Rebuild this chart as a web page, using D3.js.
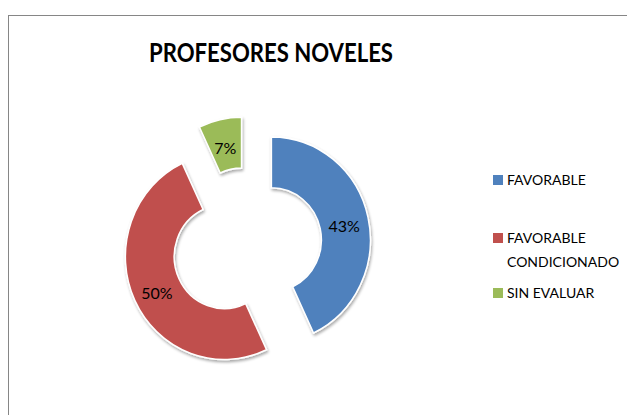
<!DOCTYPE html>
<html>
<head>
<meta charset="utf-8">
<script src="https://cdn.jsdelivr.net/npm/d3@7"></script>
<style>
  body { margin: 0; background: #fff; }
  text { font-family: Lato, "Open Sans", sans-serif; fill: #000; }
</style>
</head>
<body>
<script>
// chart data
var categories = ["FAVORABLE", "FAVORABLE CONDICIONADO", "SIN EVALUAR"];
var values = [43, 50, 7];
var legendLines = [["FAVORABLE"], ["FAVORABLE", "CONDICIONADO"], ["SIN EVALUAR"]];
var colors = ["#4F81BD", "#C0504D", "#9BBB59"];

var svgWidth = 627, svgHeight = 415;

var svg = d3.select("body").append("svg")
  .attr("width", svgWidth)
  .attr("height", svgHeight);

// shadow filter
var defs = svg.append("defs");
var f = defs.append("filter").attr("id", "shadow")
  .attr("x", "-20%").attr("y", "-20%").attr("width", "140%").attr("height", "140%");
f.append("feGaussianBlur").attr("in", "SourceAlpha").attr("stdDeviation", 1.5).attr("result", "b");
f.append("feOffset").attr("in", "b").attr("dx", 1).attr("dy", 2).attr("result", "o");
f.append("feComponentTransfer").attr("in", "o").attr("result", "s")
  .append("feFuncA").attr("type", "linear").attr("slope", 0.35);
var m = f.append("feMerge");
m.append("feMergeNode").attr("in", "s");
m.append("feMergeNode").attr("in", "SourceGraphic");

// chart frame
svg.append("rect")
  .attr("x", 8.5).attr("y", 15.5)
  .attr("width", 640).attr("height", 420)
  .attr("fill", "none")
  .attr("stroke", "#868686")
  .attr("stroke-width", 1);

// title (condensed like the original font)
svg.append("text")
  .attr("x", 149).attr("y", 62)
  .attr("textLength", 244)
  .attr("lengthAdjust", "spacingAndGlyphs")
  .style("font-size", "27px")
  .style("font-weight", "bold")
  .text("PROFESORES NOVELES");

// donut
var cx = 247, cy = 245.5, yScale = 1.04;
var rOut = 99, rIn = 50, explode = 25;

var pie = d3.pie().sort(null).value(function(d) { return d; });
var arcs = pie(values);

var arc = d3.arc().innerRadius(rIn).outerRadius(rOut);
var labelArc = d3.arc().innerRadius((rIn + rOut) / 2).outerRadius((rIn + rOut) / 2);

var donut = svg.append("g")
  .attr("transform", "translate(" + cx + "," + cy + ") scale(1," + yScale + ")");

donut.selectAll("path")
  .data(arcs)
  .enter()
  .append("path")
  .attr("d", arc)
  .attr("fill", function(d, i) { return colors[i]; })
  .attr("stroke", "#fff")
  .attr("stroke-width", 1.5)
  .attr("filter", "url(#shadow)")
  .attr("transform", function(d) {
    var a = (d.startAngle + d.endAngle) / 2;
    return "translate(" + (explode * Math.sin(a)) + "," + (-explode * Math.cos(a)) + ")";
  });

// slice labels
var total = d3.sum(values);
svg.selectAll(".slabel")
  .data(arcs)
  .enter()
  .append("text")
  .attr("class", "slabel")
  .attr("x", function(d) {
    var a = (d.startAngle + d.endAngle) / 2;
    return cx + labelArc.centroid(d)[0] + explode * Math.sin(a);
  })
  .attr("y", function(d) {
    var a = (d.startAngle + d.endAngle) / 2;
    return cy + (labelArc.centroid(d)[1] - explode * Math.cos(a)) * yScale + 3;
  })
  .attr("text-anchor", "middle")
  .attr("dominant-baseline", "central")
  .style("font-size", "16px")
  .text(function(d) { return Math.round(d.value / total * 100) + "%"; });

// legend
var legendY = [175, 233, 288];
var legend = svg.selectAll(".legend")
  .data(categories)
  .enter()
  .append("g")
  .attr("class", "legend")
  .attr("transform", function(d, i) { return "translate(493," + legendY[i] + ")"; });

legend.append("rect")
  .attr("width", 10).attr("height", 10)
  .attr("fill", function(d, i) { return colors[i]; });

legend.append("text")
  .style("font-size", "14px")
  .selectAll("tspan")
  .data(function(d, i) { return legendLines[i]; })
  .enter()
  .append("tspan")
  .attr("x", 14)
  .attr("y", function(d, j) { return 10 + j * 24; })
  .text(function(d) { return d; });
</script>
</body>
</html>
